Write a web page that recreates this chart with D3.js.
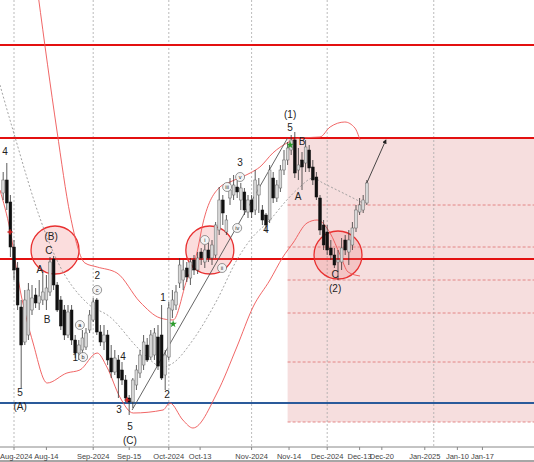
<!DOCTYPE html>
<html><head><meta charset="utf-8">
<script src="https://cdn.jsdelivr.net/npm/d3@7"></script>
<style>body{margin:0;background:#fff}svg{display:block;font-family:"Liberation Sans",Arial,sans-serif}</style>
</head><body><svg id="c" width="534" height="462"></svg>
<script>
// candle index (0 = Aug 1 2024), OHLC
const startIndex = -3;
const opens  = [252,265,243,198,177,138,103,110,135,150,142,145,145,153,186,160,145,135,110,135,105,92,95,98,115,125,145,113,103,110,87,73,85,75,65,47,43,60,72,80,100,88,90,108,110,70,88,135,140,162,165,177,167,185,175,193,183,195,187,190,215,245,213,247,250,258,245,253,233,245,235,250,235,230,225,267,247,257,275,285,295,305,275,285,282,295,278,268,247,220,213,197,190,183,183,205,193,200,217,233,235,242];
const highs  = [273,282,250,205,183,145,155,162,160,157,165,173,170,188,189,163,149,140,140,140,110,105,115,117,135,147,147,120,120,115,100,95,90,83,70,50,67,80,95,110,107,115,117,120,140,95,143,155,160,187,185,183,187,190,193,197,200,202,205,223,258,250,230,267,270,265,262,257,250,250,275,267,240,232,280,273,265,280,295,303,310,313,297,293,305,300,285,273,250,225,220,205,197,195,207,210,215,223,240,247,250,265];
const lows   = [245,235,188,165,135,57,100,105,130,137,135,140,135,149,155,133,115,105,107,100,87,85,90,95,112,123,110,99,95,80,67,70,47,60,43,30,37,55,67,75,83,85,85,75,65,55,85,127,135,157,155,163,160,170,171,180,177,183,180,187,210,220,210,240,245,247,235,230,227,227,230,232,220,213,222,242,243,253,270,280,290,267,265,255,273,273,260,245,210,195,190,185,177,165,175,190,180,195,213,230,232,240];
const closes = [265,242,198,175,140,100,145,155,147,142,149,153,157,183,160,135,119,110,133,105,92,100,107,112,130,143,113,103,110,85,73,87,67,65,47,43,65,75,90,103,85,110,112,79,67,90,137,145,153,180,175,168,183,175,187,187,195,187,200,220,245,232,225,255,260,253,257,235,245,233,265,260,225,220,275,247,260,275,285,297,305,272,280,278,298,277,265,248,215,200,195,190,180,185,197,195,205,217,235,240,245,262];

// Bollinger bands read at sampled points: [index, price]
const upperBand = [[6.7,450],[11.9,315],[15.6,230],[19.7,182],[23.1,178],[28.6,172],[35,143],[40.6,127],[44.2,125],[48,165],[50.8,192],[52.5,222],[57.2,258],[60,263],[65.6,272],[68.3,278],[71.9,292],[75.8,302],[79.4,307],[85,308],[87.8,318],[91.9,323],[94.7,317],[96.1,305]];
const lowerBand = [[-3.9,255],[-1.1,215],[1.7,155],[5.3,102],[9.2,62],[14.7,72],[18.3,75],[23.1,92],[25.8,78],[29.4,48],[33.1,32],[41.4,35],[43.3,42],[46.9,25],[49.7,17],[56.4,52],[61.9,98],[66.4,138],[71.1,165],[74.7,188],[77.5,202],[81.4,222],[84.2,225],[87.8,212],[90.6,190],[92.8,173],[96.1,169]];
const midBand   = [[-3.9,360],[-0.3,315],[8.1,218],[11.9,185],[20.3,142],[26.7,128],[35,95],[41.4,78],[44.2,82],[49.7,105],[56.4,145],[61.9,185],[65.6,205],[71.1,225],[75.8,245],[79.4,258],[83.1,267],[85.8,262],[91.4,252],[96.9,242]];

const redLevels = [400,307,186];
const blueLevel = 42;
const zoneTop = 307, zoneBottom = 23, zoneStart = 76;
const zoneDashed = [240,198,165,132,83,23];

const monthLines = [0,22,43,66,87,116.6];
const tickLabels = ["Aug-2024","Aug-14","Sep-2024","Sep-15","Oct-2024","Oct-13","Nov-2024","Nov-14","Dec-2024","Dec-13","Dec-20","Jan-2025","Jan-10","Jan-17"];
const tickIndex  = [0,9,22,32,43,51.7,66,76.4,87,96,102.2,114.2,123.3,130.3];

const circles = [[11.4,195],[54.4,195],[90,190]];
const trendLine = [[32.8,35],[76,307]];
const arrowLine = [[98,262],[103.3,305]];

const labels = [["4",-2.5,293],["5",1.7,52],["(A)",1.7,38],["(B)",10.3,208],["C",9.7,194],["A",7.2,175],["B",9.2,125],
 ["1",17,87],["2",23.1,169],["4",30.3,88],["3",29.2,35],["5",32.2,18],["(C)",32.2,4],["1",41.4,147],["2",42.5,50],
 ["3",62.8,282],["4",70,215],["(1)",76.7,330],["5",76.7,317],["B",80,303],["A",78.9,248],["C",89.2,170],["(2)",89.2,156]];
const circledLabels = [["a",18.3,120],["b",19.2,88],["c",23.1,155],["i",53,205],["ii",57.8,177],["iii",59.2,258],["iv",62,217],["v",62.8,268]];
const greenMarks = [[44.2,121],[76.7,300]];
const redMarks = [[-1.1,213],[31.4,45]];

const svg = d3.select("#c");
const W = 534, plotBottom = 447;
const x = d3.scaleLinear().domain([0,98]).range([14,14+98*3.6]);
const y = d3.scaleLinear().domain([0,445]).range([445,0]);

svg.append("rect").attr("x",x(zoneStart)).attr("y",y(zoneTop)).attr("width",W-x(zoneStart)).attr("height",y(zoneBottom)-y(zoneTop)).attr("fill","#f6dede");
zoneDashed.forEach(v=>svg.append("line").attr("x1",x(zoneStart)).attr("x2",W).attr("y1",y(v)).attr("y2",y(v)).attr("stroke","#e07070").attr("stroke-width",0.8).attr("stroke-dasharray","3,2"));

monthLines.forEach(i=>svg.append("line").attr("x1",x(i)).attr("x2",x(i)).attr("y1",0).attr("y2",plotBottom).attr("stroke","#aaa").attr("stroke-width",0.8).attr("stroke-dasharray","2,2"));

redLevels.forEach(v=>svg.append("line").attr("x1",0).attr("x2",W).attr("y1",y(v)).attr("y2",y(v)).attr("stroke","#e31010").attr("stroke-width",2));
svg.append("line").attr("x1",0).attr("x2",W).attr("y1",y(blueLevel)).attr("y2",y(blueLevel)).attr("stroke","#2a5a9a").attr("stroke-width",2);

circles.forEach(c=>svg.append("circle").attr("cx",x(c[0])).attr("cy",y(c[1])).attr("r",24).attr("fill","rgba(240,120,120,0.25)").attr("stroke","#e83030").attr("stroke-width",1.3));

const ln = d3.line().x(d=>x(d[0])).y(d=>y(d[1])).curve(d3.curveMonotoneX);
svg.append("path").attr("d",ln(upperBand)).attr("fill","none").attr("stroke","#ee5555").attr("stroke-width",0.9);
svg.append("path").attr("d",ln(lowerBand)).attr("fill","none").attr("stroke","#ee5555").attr("stroke-width",0.9);
svg.append("path").attr("d",ln(midBand)).attr("fill","none").attr("stroke","#999").attr("stroke-width",0.9).attr("stroke-dasharray","2,2");

svg.append("path").attr("d",d3.line().x(d=>x(d[0])).y(d=>y(d[1]))(trendLine)).attr("stroke","#555").attr("stroke-width",0.9).attr("fill","none");
svg.append("defs").append("marker").attr("id","ah").attr("viewBox","0 0 10 10").attr("refX",8).attr("refY",5).attr("markerWidth",5).attr("markerHeight",5).attr("orient","auto").append("path").attr("d","M0,0L10,5L0,10z").attr("fill","#222");
svg.append("path").attr("d",d3.line().x(d=>x(d[0])).y(d=>y(d[1]))(arrowLine)).attr("stroke","#333").attr("stroke-width",0.9).attr("fill","none").attr("marker-end","url(#ah)");

const candles = opens.map((o,k)=>({i:startIndex+k,o,h:highs[k],l:lows[k],c:closes[k]}));
const g = svg.append("g");
candles.forEach(d=>{
  const cx = x(d.i);
  g.append("line").attr("x1",cx).attr("x2",cx).attr("y1",y(d.h)).attr("y2",y(d.l)).attr("stroke","#333").attr("stroke-width",0.8);
  const bull = d.c>=d.o;
  g.append("rect").attr("x",cx-1.4).attr("width",2.8).attr("y",y(Math.max(d.o,d.c))).attr("height",Math.max(1,Math.abs(y(d.o)-y(d.c))))
   .attr("fill",bull?"#d8d8d8":"#111").attr("stroke",bull?"#666":"#111").attr("stroke-width",0.5);
});

greenMarks.forEach(m=>svg.append("path").attr("transform",`translate(${x(m[0])},${y(m[1])})`).attr("d",d3.symbol(d3.symbolStar,18)()).attr("fill","#2a9a2a"));
redMarks.forEach(m=>svg.append("path").attr("transform",`translate(${x(m[0])},${y(m[1])})`).attr("d",d3.symbol(d3.symbolCross,14)()).attr("fill","#d02020"));

labels.forEach(l=>svg.append("text").attr("x",x(l[1])).attr("y",y(l[2])).attr("text-anchor","middle").attr("dominant-baseline","middle").attr("font-size",10).attr("fill","#222").text(l[0]));
circledLabels.forEach(l=>{
  svg.append("circle").attr("cx",x(l[1])).attr("cy",y(l[2])).attr("r",4.5).attr("fill","#f4f4f4").attr("stroke","#555").attr("stroke-width",0.6);
  svg.append("text").attr("x",x(l[1])).attr("y",y(l[2])+0.5).attr("text-anchor","middle").attr("dominant-baseline","middle").attr("font-size",5.5).attr("fill","#222").text(l[0]);
});

svg.append("line").attr("x1",0).attr("x2",W).attr("y1",plotBottom).attr("y2",plotBottom).attr("stroke","#888");
svg.append("line").attr("x1",0).attr("x2",W).attr("y1",461).attr("y2",461).attr("stroke","#888").attr("stroke-width",1.5);
tickIndex.forEach((t,k)=>{
  const px = t<=98 ? x(t) : x(98)+(t-98)*3.58;
  svg.append("line").attr("x1",px).attr("x2",px).attr("y1",plotBottom).attr("y2",plotBottom+3).attr("stroke","#888");
  svg.append("text").attr("x",k===0?0:px).attr("y",459).attr("text-anchor",k===0?"start":"middle").attr("font-size",7.5).attr("fill","#444").text(tickLabels[k]);
});
</script></body></html>
